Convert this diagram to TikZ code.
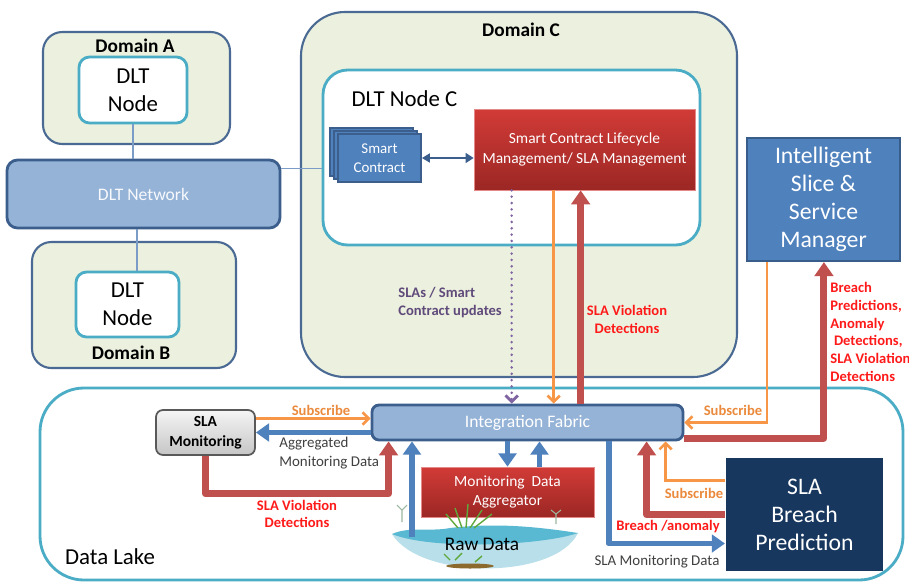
\documentclass[tikz,border=0pt]{standalone}
\usepackage{fontspec}
\setmainfont{Carlito}
\usetikzlibrary{positioning, arrows.meta, calc}

\definecolor{domfill}{HTML}{EBF1DE}
\definecolor{domline}{HTML}{4A6A94}
\definecolor{ledgerline}{HTML}{4BACC6}
\definecolor{linkline}{HTML}{7A9CC6}
\definecolor{netfill}{HTML}{95B3D7}
\definecolor{netline}{HTML}{3B5E8C}
\definecolor{mgrfill}{HTML}{4F81BD}
\definecolor{mgrline}{HTML}{385D8A}
\definecolor{predfill}{HTML}{17375E}
\definecolor{redtop}{HTML}{D23B37}
\definecolor{redbot}{HTML}{9B2724}
\definecolor{arrred}{HTML}{C0504D}
\definecolor{arrblue}{HTML}{4F81BD}
\definecolor{arrorange}{HTML}{F79646}
\definecolor{subtext}{HTML}{EB8A3C}
\definecolor{alerttext}{HTML}{FF1A1A}
\definecolor{updpurple}{HTML}{8064A2}
\definecolor{updtext}{HTML}{604A7B}
\definecolor{graytext}{HTML}{404040}
\definecolor{pondlight}{HTML}{B9E0EA}
\definecolor{ponddark}{HTML}{5AB9D2}
\definecolor{grass}{HTML}{5FA83C}
\definecolor{sprig}{HTML}{9DB8A0}
\definecolor{mud}{HTML}{8C6A2E}

\tikzset{
  wh/.style 2 args={minimum width=#1*0.02cm, minimum height=#2*0.02cm},
  dombox/.style={draw=domline, fill=domfill, line width=1.2pt, inner sep=0pt},
  domtitle/.style={font=\bfseries\fontsize{11}{13}\selectfont},
  ledger/.style={draw=ledgerline, fill=white, line width=1.6pt, rounded corners=6pt,
    align=center, inner sep=0pt, font=\fontsize{13}{16}\selectfont},
  fabric/.style={draw=netline, fill=netfill, line width=1.6pt, rounded corners=4pt,
    inner sep=0pt, text=white, font=\fontsize{10}{12}\selectfont},
  redbox/.style={top color=redtop, bottom color=redbot, draw=redtop!60!white, line width=0.4pt,
    text=white, align=center, inner sep=0pt, font=\fontsize{8.8}{11}\selectfont},
  card/.style={draw=netline, fill=mgrfill, line width=1pt, inner sep=0pt, text=white,
    align=center, font=\fontsize{8.5}{10.8}\selectfont},
  bluebox/.style={fill=#1, draw=mgrline, line width=1.2pt, inner sep=0pt, text=white,
    align=center, font=\fontsize{13.5}{16}\selectfont},
  graybox/.style={top color=gray!8, bottom color=gray!45, draw=black!65, line width=1pt,
    rounded corners=4pt, inner sep=0pt, align=center, font=\bfseries\fontsize{8.8}{11.3}\selectfont},
  link/.style={draw=linkline, line width=0.9pt},
  bigred/.style={draw=arrred, line width=4pt, line join=round, -{Triangle[length=8pt,width=10.5pt]}},
  bigblue/.style={draw=arrblue, line width=3.4pt, line join=round, -{Triangle[length=7.5pt,width=10pt]}},
  subarrow/.style={draw=arrorange, line width=1.5pt, -{Straight Barb[length=3.5pt,width=7pt]}},
  updarrow/.style={draw=updpurple, line width=1.6pt, line cap=round, dash pattern=on 0pt off 3.6pt,
    -{Straight Barb[length=3.5pt,width=7pt]}},
  scarrow/.style={draw=netline, line width=1.6pt,
    {Triangle[length=4.5pt,width=5pt]}-{Triangle[length=4.5pt,width=5.5pt]}},
  lbl/.style={inner sep=0pt, align=center, font=\bfseries\fontsize{8.3}{10.1}\selectfont},
  redlbl/.style={lbl, text=alerttext},
  sublbl/.style={lbl, text=subtext},
  updlbl/.style={lbl, text=updtext, align=left},
  graylbl/.style={inner sep=0pt, text=graytext, font=\fontsize{8.5}{10.5}\selectfont},
}

\begin{document}
\begin{tikzpicture}[x=0.02cm, y=-0.02cm]
  \useasboundingbox (0,0) rectangle (909,582);

  % ledger domains on the left
  \node (domA) [dombox, rounded corners=11pt, wh={187}{112}] at (136.5,88) {};
  \node (domAtitle) [domtitle] at (135,46) {Domain A};
  \node (dltA) [ledger, wh={108}{66}] at (133,90) {DLT\\Node};

  \node (domB) [dombox, rounded corners=11pt, wh={204}{126}] at (134,305) {};
  \node (domBtitle) [domtitle] at (131,353) {Domain B};
  \node (dltB) [ledger, wh={103}{65}] at (127.5,304.5) {DLT\\Node};

  \node (net) [fabric, rounded corners=6pt, wh={273}{68}, text=white!92!netfill] at (143.5,194) {DLT Network};

  % domain C with its ledger node
  \node (domC) [dombox, rounded corners=25pt, wh={436}{365}] at (519,194.5) {};
  \node (domCtitle) [domtitle] at (521,30) {Domain C};
  \node (nodeC) [ledger, rounded corners=14pt, wh={377}{175}] at (511.5,157.5) {};
  \node (nodeCtitle) [inner sep=0pt, font=\fontsize{13}{16}\selectfont] at (404.5,99) {DLT Node C};

  \node (sc3) [card, wh={83}{48}] at (371.5,152) {};
  \node (sc2) [card, wh={83}{48}] at (375.5,155) {};
  \node (sc) [card, wh={83}{48}] at (379.5,158) {Smart\\Contract};
  \node (sclm) [redbox, wh={221}{81}] at (584.5,149.5) {Smart Contract Lifecycle\\Management/ SLA Management};

  \node (issm) [bluebox=mgrfill, wh={153}{123}] at (823.5,199.5) {Intelligent\\Slice \&\\Service\\Manager};

  % data lake
  \node (lake) [draw=ledgerline, fill=white, line width=1.6pt, rounded corners=25pt, wh={863}{192}] at (471.5,484) {};
  \node (laketitle) [inner sep=0pt, font=\fontsize{13}{16}\selectfont] at (110,557) {Data Lake};

  \node (fab) [fabric, wh={311}{35}] at (527.5,422.5) {Integration Fabric};
  \node (mon) [graybox, wh={99}{45}] at (205.5,432.5) {SLA\\Monitoring};
  \node (agg) [redbox, wh={173}{50}] at (507.5,492) {Monitoring~~Data\\Aggregator};
  \node (bp) [bluebox=predfill, draw=none, wh={157}{113}] at (804.5,514.5) {SLA\\Breach\\Prediction};

  % raw data pond
  \fill[pondlight] (392,534) .. controls (420,580) and (555,580) .. (578,533) -- cycle;
  \fill[ponddark] (392,534) .. controls (410,526) and (430,532) .. (450,528)
    .. controls (500,522) and (545,528) .. (578,533)
    .. controls (540,546) and (430,550) .. (392,534);
  \fill[mud] (470,566) ellipse (24 and 2.5);
  \begin{scope}[draw=grass, line width=0.8pt]
    \draw (462,528) -- (455,508); \draw (466,528) -- (468,504); \draw (470,528) -- (482,510);
    \draw (474,528) -- (492,514); \draw (458,528) -- (446,514);
    \draw (450,560) -- (444,554); \draw (455,560) -- (462,553); \draw (475,562) -- (482,556);
  \end{scope}
  \begin{scope}[draw=sprig, line width=0.6pt]
    \draw (402,522) -- (402,510) -- (397,505); \draw (402,510) -- (407,505);
    \draw (556,524) -- (556,514) -- (551,510); \draw (556,514) -- (561,510);
  \end{scope}
  \node (raw) [inner sep=0pt, font=\fontsize{11}{13}\selectfont] at (482,544) {Raw Data};

  % ledger links
  \draw[link] (dltA.south) -- (dltA.south |- net.north);
  \coordinate (linkB) at ($(dltB.north)+(9.5,0)$);
  \draw[link] (linkB) -- (linkB |- net.south);
  \coordinate (linkC) at ($(net.north east)+(0,10)$);
  \draw[link] (linkC) -- (linkC -| nodeC.west);

  \draw[scarrow] (sc.east) -- (sc.east -| sclm.west);

  % between the ledger and the fabric
  \coordinate (upd) at ($(sclm.south west)+(38,0)$);
  \coordinate (subC) at ($(sclm.south west)+(80,0)$);
  \coordinate (violC) at ($(sclm.south west)+(107,0)$);
  \draw[updarrow] (upd) -- (upd |- fab.north);
  \draw[subarrow] (subC) -- (subC |- fab.north);
  \draw[bigred] (violC |- fab.north) -- (violC);

  % between the manager and the fabric
  \coordinate (subM) at ($(issm.south west)+(21,0)$);
  \coordinate (violM) at ($(issm.south west)+(78,0)$);
  \draw[subarrow] (subM) |- (fab.east);
  \draw[bigred] ($(fab.south east)+(0,-3)$) -| (violM);

  % SLA monitoring
  \coordinate (subL) at ($(mon.east)+(0,-14)$);
  \draw[subarrow] (subL) -- (subL -| fab.west);
  \draw[bigblue] (mon.east -| fab.west) -- (mon.east);
  \draw[bigred] (mon.south) -- ++(0,38) -| ($(fab.south west)+(18,0)$);

  % raw data and aggregator
  \coordinate (rawup) at ($(raw)+(-70,-7)$);
  \draw[bigblue] (rawup) -- (rawup |- fab.south);
  \draw[bigblue] (agg.north |- fab.south) -- (agg.north);
  \coordinate (aggout) at ($(agg.north)+(32,0)$);
  \draw[bigblue] (aggout) -- (aggout |- fab.south);

  % breach prediction
  \draw[bigblue] ($(fab.south west)+(238,0)$) |- ($(bp.west)+(0,29)$);
  \draw[bigred] (bp.west) -| ($(fab.south west)+(276,0)$);
  \draw[subarrow] ($(bp.west)+(0,-34)$) -| ($(fab.south west)+(295,0)$);

  % labels
  \node (updlbl) [updlbl, anchor=west] at (398,302.5) {SLAs / Smart\\Contract updates};
  \node (violClbl) [redlbl] at (627,319.5) {SLA Violation\\Detections};
  \node (subMlbl) [sublbl] at (733,410) {Subscribe};
  \node (violMlbl) [redlbl, align=left, anchor=north west] at (830,282)
    {Breach\\Predictions,\\Anomaly\\\hspace{0.25em}Detections,\\SLA Violation\\Detections};
  \node (subLlbl) [sublbl] at (321,410) {Subscribe};
  \node (aggLlbl) [graylbl, align=left, anchor=west] at (279,453) {Aggregated\\Monitoring Data};
  \node (violLlbl) [redlbl] at (297,514) {SLA Violation\\Detections};
  \node (subBlbl) [sublbl] at (694,493) {Subscribe};
  \node (breachlbl) [redlbl] at (668,527) {Breach /anomaly};
  \node (monlbl) [graylbl] at (657,562) {SLA Monitoring Data};
\end{tikzpicture}
\end{document}
